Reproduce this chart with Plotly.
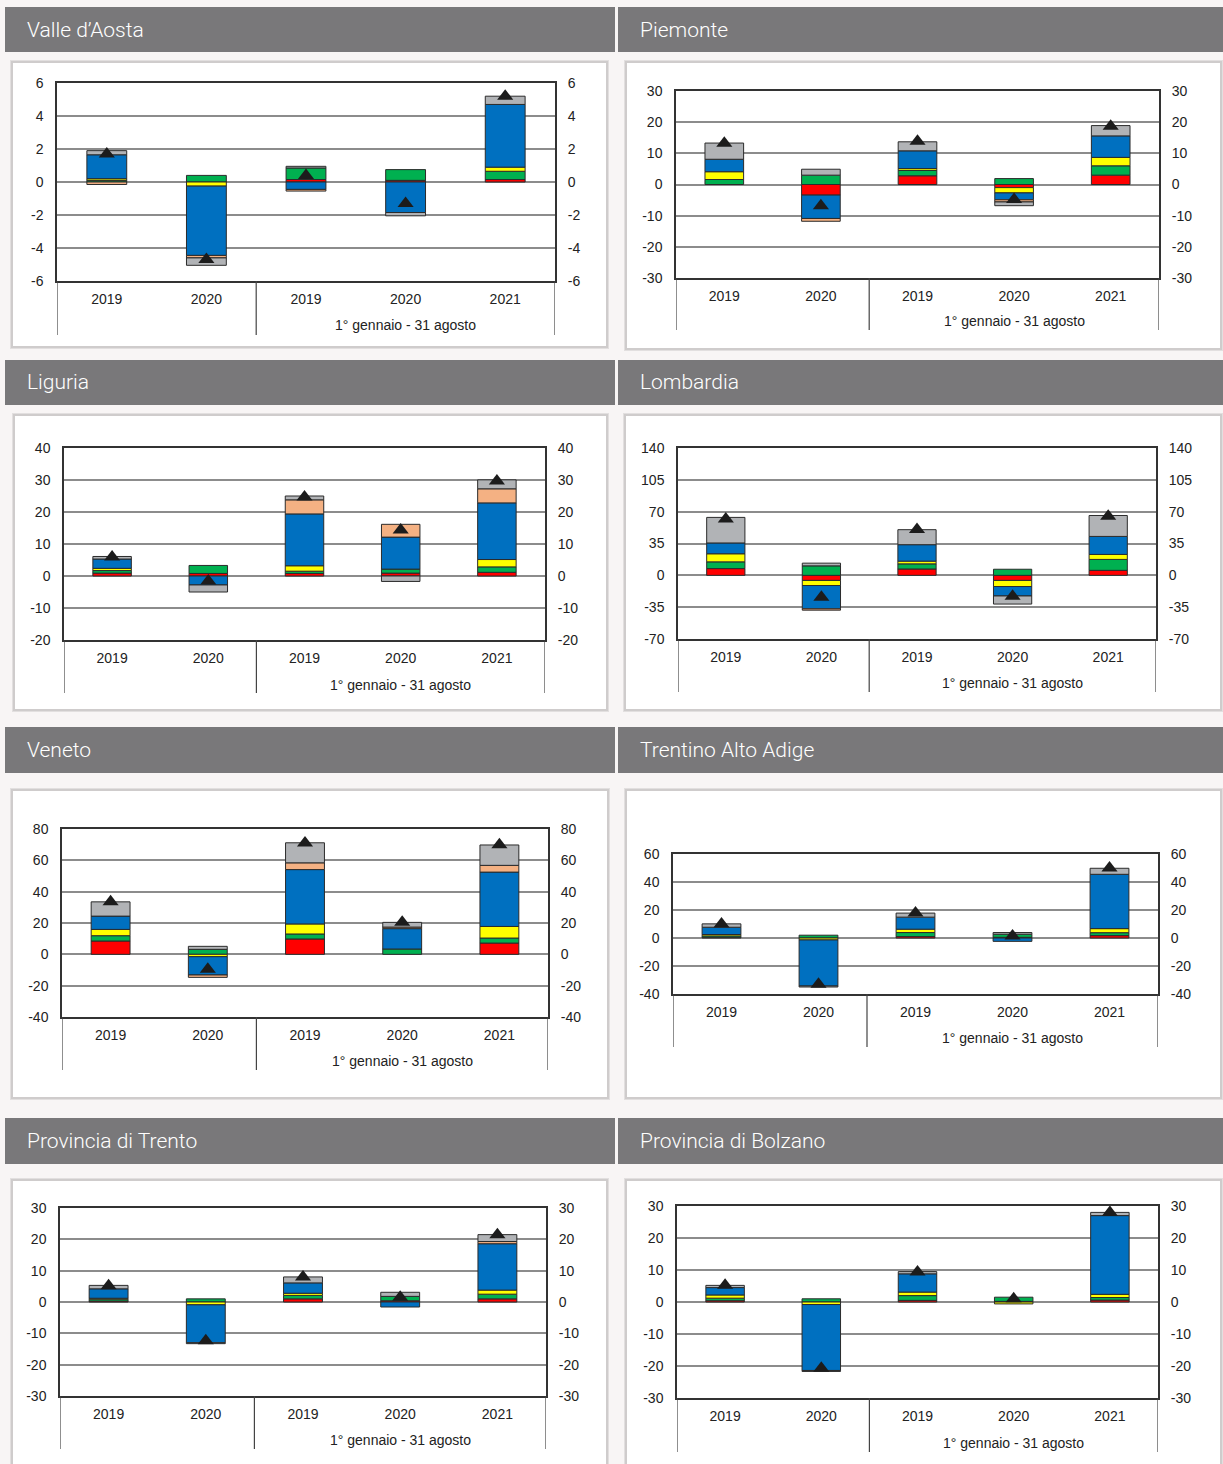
import plotly.graph_objects as go

W, H = 1223, 1464

years = ["2019", "2020", "2019", "2020", "2021"]
group_label = "1° gennaio - 31 agosto"

# ---- data ----
vda_red = [0, 0, 0.15, 0.1, 0.15]
vda_green = [0.1, 0.4, 0.7, 0.65, 0.5]
vda_yellow = [0.1, -0.25, 0, 0, 0.25]
vda_blue = [1.45, -4.2, -0.45, -1.85, 3.8]
vda_salmon = [-0.15, -0.15, -0.1, 0, 0]
vda_gray = [0.25, -0.45, 0.1, -0.2, 0.5]
vda_total = [1.7, -4.7, 0.4, -1.3, 5.2]

pie_red = [0, -3.4, 2.8, -1.0, 3.0]
pie_green = [1.6, 3.0, 1.7, 1.9, 3.0]
pie_yellow = [2.5, 0, 0.6, -1.7, 2.7]
pie_blue = [4.0, -7.5, 5.7, -2.2, 6.9]
pie_salmon = [0, -0.9, 0, -0.7, 0]
pie_gray = [5.2, 1.9, 2.9, -1.2, 3.3]
pie_total = [13.2, -6.8, 13.9, -4.8, 18.7]

lig_red = [0.9, 0.8, 0.8, 0.9, 1.15]
lig_green = [0.8, 2.5, 0.7, 1.25, 1.7]
lig_yellow = [0.7, 0, 1.7, 0, 2.3]
lig_blue = [2.9, -2.8, 16.2, 10.0, 17.7]
lig_salmon = [0, 0, 4.4, 4.0, 4.4]
lig_gray = [0.8, -2.2, 1.2, -1.7, 2.8]
lig_total = [5.9, -1.6, 24.7, 14.4, 29.7]

lom_red = [7.4, -5.6, 7.0, -5.6, 5.5]
lom_green = [7.4, 10.4, 5.6, 6.7, 12.0]
lom_yellow = [8.9, -5.6, 3.0, -6.7, 5.5]
lom_blue = [11.9, -25.6, 18.1, -10.4, 19.8]
lom_salmon = [0, -1.5, 0, 0, 0]
lom_gray = [28.1, 3.0, 16.5, -8.9, 23.0]
lom_total = [62, -24, 50.5, -23, 65]

ven_red = [8.5, 0, 9.8, 0, 7.2]
ven_green = [3.4, 3.2, 3.2, 3.4, 3.2]
ven_yellow = [4.0, -1.5, 6.4, 0, 7.4]
ven_blue = [8.5, -11.7, 34.7, 13.0, 34.7]
ven_salmon = [0, -1.5, 4.3, 1.0, 4.3]
ven_gray = [9.1, 1.9, 12.8, 3.0, 13.0]
ven_total = [33.5, -9.6, 71, 20.4, 70]

taa_red = [0.5, 0, 1.0, 0.5, 1.7]
taa_green = [1.0, 2.0, 2.9, 2.2, 2.1]
taa_yellow = [1.0, -1.4, 2.4, 0, 2.9]
taa_blue = [5.2, -32.9, 8.6, -2.4, 38.8]
taa_salmon = [0, 0, 0, 0, 0]
taa_gray = [2.4, -0.7, 2.9, 1.2, 4.3]
taa_total = [10, -33, 17.9, 1.5, 50]

tn_red = [0.3, 0, 1.0, 0.4, 1.0]
tn_green = [0.6, 1.0, 1.1, 1.4, 1.5]
tn_yellow = [0.3, -0.9, 0.7, 0, 1.3]
tn_blue = [3.0, -12.1, 3.3, -1.6, 14.8]
tn_salmon = [0, 0, 0, 0, 0.7]
tn_gray = [1.1, -0.3, 1.9, 1.3, 2.2]
tn_total = [5.2, -12.4, 8.0, 1.5, 21.5]

bz_red = [0.4, 0, 0.5, 0.2, 0.6]
bz_green = [0.8, 1.0, 1.5, 1.3, 0.8]
bz_yellow = [1.0, -0.8, 1.1, -0.6, 1.0]
bz_blue = [2.3, -20.6, 5.7, 0, 24.6]
bz_salmon = [0, 0, 0, 0, 0]
bz_gray = [0.7, -0.3, 0.7, 0, 1.0]
bz_total = [5.2, -20.7, 9.4, 1.0, 28.0]

colors = ["#ff0000", "#00b050", "#ffff00", "#0070c0", "#f4b183", "#b1b3b6"]

# ---- layout (pixel geometry) ----
panels = [
    dict(title="Valle d’Aosta", series=[vda_red, vda_green, vda_yellow, vda_blue, vda_salmon, vda_gray], total=vda_total,
         rng=[-6, 6], dtick=2, hdr=(5, 615, 7, 52), card=(12, 607, 62, 347), plot=(57, 555, 83, 281), sep=335, grp=325),
    dict(title="Piemonte", series=[pie_red, pie_green, pie_yellow, pie_blue, pie_salmon, pie_gray], total=pie_total,
         rng=[-30, 30], dtick=10, hdr=(618, 1223, 7, 52), card=(626, 1221, 62, 349), plot=(676, 1159, 91, 278), sep=330, grp=321),
    dict(title="Liguria", series=[lig_red, lig_green, lig_yellow, lig_blue, lig_salmon, lig_gray], total=lig_total,
         rng=[-20, 40], dtick=10, hdr=(5, 615, 360, 405), card=(14, 607, 415, 710), plot=(64, 545, 448, 640), sep=693, grp=685),
    dict(title="Lombardia", series=[lom_red, lom_green, lom_yellow, lom_blue, lom_salmon, lom_gray], total=lom_total,
         rng=[-70, 140], dtick=35, hdr=(618, 1223, 360, 405), card=(625, 1221, 415, 710), plot=(678, 1156, 448, 639), sep=692, grp=683),
    dict(title="Veneto", series=[ven_red, ven_green, ven_yellow, ven_blue, ven_salmon, ven_gray], total=ven_total,
         rng=[-40, 80], dtick=20, hdr=(5, 615, 727, 773), card=(12, 608, 790, 1098), plot=(62, 548, 829, 1017), sep=1070, grp=1061),
    dict(title="Trentino Alto Adige", series=[taa_red, taa_green, taa_yellow, taa_blue, taa_salmon, taa_gray], total=taa_total,
         rng=[-40, 60], dtick=20, hdr=(618, 1223, 727, 773), card=(626, 1221, 790, 1098), plot=(673, 1158, 854, 994), sep=1047, grp=1038),
    dict(title="Provincia di Trento", series=[tn_red, tn_green, tn_yellow, tn_blue, tn_salmon, tn_gray], total=tn_total,
         rng=[-30, 30], dtick=10, hdr=(5, 615, 1118, 1164), card=(12, 607, 1180, 1470), plot=(60, 546, 1208, 1396), sep=1449, grp=1440),
    dict(title="Provincia di Bolzano", series=[bz_red, bz_green, bz_yellow, bz_blue, bz_salmon, bz_gray], total=bz_total,
         rng=[-30, 30], dtick=10, hdr=(618, 1223, 1118, 1164), card=(626, 1221, 1180, 1470), plot=(677, 1158, 1206, 1398), sep=1452, grp=1443),
]


def px(x):
    return x / W


def py(y):
    return 1 - y / H


def ticks_for(rng, step):
    vals = []
    v = rng[0]
    while v <= rng[1] + 1e-9:
        vals.append(v)
        v += step
    return vals, [str(int(t)) if float(t).is_integer() else str(t) for t in vals]


fig = go.Figure()
shapes = []
annotations = []
layout = {}
TICKFONT = dict(family="Liberation Sans, Arial", size=14, color="#222222")

for i, p in enumerate(panels):
    n = i + 1
    nr = n + 8
    xa = "x" if n == 1 else f"x{n}"
    ya = "y" if n == 1 else f"y{n}"
    yr = f"y{nr}"
    hx0, hx1, hy0, hy1 = p["hdr"]
    cx0, cx1, cy0, cy1 = p["card"]
    X0, X1, Y0, Y1 = p["plot"]

    # header + card
    shapes.append(dict(type="rect", xref="paper", yref="paper", x0=px(hx0), x1=px(hx1), y0=py(hy1), y1=py(hy0),
                       fillcolor="#79787a", line=dict(width=0), layer="below"))
    shapes.append(dict(type="rect", xref="paper", yref="paper", x0=px(cx0 - 2), x1=px(cx1 + 2), y0=py(cy1 + 2), y1=py(cy0 - 2),
                       fillcolor="#e2dfdf", line=dict(width=0), layer="below"))
    shapes.append(dict(type="rect", xref="paper", yref="paper", x0=px(cx0), x1=px(cx1), y0=py(cy1), y1=py(cy0),
                       fillcolor="#ffffff", line=dict(color="#cfcccc", width=2), layer="below"))
    annotations.append(dict(text=p["title"], xref="paper", yref="paper", x=px(hx0 + 20), y=py((hy0 + hy1) / 2),
                            xanchor="left", yanchor="middle", showarrow=False,
                            font=dict(family="Roboto", size=21, color="#ffffff", weight=300)))

    xs = list(range(len(years)))
    for s, c in zip(p["series"], colors):
        vals = [v if v != 0 else None for v in s]
        fig.add_trace(go.Bar(x=xs, y=vals, marker=dict(color=c, line=dict(color="#2b2b2b", width=1)),
                             xaxis=xa, yaxis=ya, showlegend=False, hoverinfo="y"))
    fig.add_trace(go.Scatter(x=xs, y=p["total"], mode="markers",
                             marker=dict(symbol="triangle-up", size=14, color="#1c1c1c"),
                             xaxis=xa, yaxis=yr, showlegend=False, hoverinfo="y"))

    tv, tt = ticks_for(p["rng"], p["dtick"])
    dom_x = [px(X0), px(X1)]
    dom_y = [py(Y1), py(Y0)]
    layout["xaxis" if n == 1 else f"xaxis{n}"] = dict(
        domain=dom_x, anchor=ya, range=[-0.5, len(years) - 0.5], tickvals=xs, ticktext=years,
        showgrid=False, zeroline=False, showline=True, mirror=True, linecolor="#333333", linewidth=1.5,
        ticks="outside", ticklen=4, tickcolor="rgba(0,0,0,0)", tickfont=TICKFONT, fixedrange=True,
        automargin=False)
    common_y = dict(range=p["rng"], tickvals=tv, ticktext=tt, tickfont=TICKFONT,
                    ticks="outside", ticklen=9, tickcolor="rgba(0,0,0,0)", fixedrange=True, automargin=False)
    layout["yaxis" if n == 1 else f"yaxis{n}"] = dict(
        domain=dom_y, anchor=xa, showgrid=True, gridcolor="#8c8c8c", gridwidth=1.5,
        zeroline=True, zerolinecolor="#8c8c8c", zerolinewidth=1.5,
        showline=True, mirror=True, linecolor="#333333", linewidth=1.5, **common_y)
    layout[f"yaxis{nr}"] = dict(overlaying=ya, anchor=xa, side="right", showgrid=False, zeroline=False,
                                showline=False, **common_y)

    # category separators below the plot
    ph = Y1 - Y0
    ybot = -(p["sep"] - Y1) / ph
    for xb in [-0.5, 1.5, len(years) - 0.5]:
        shapes.append(dict(type="line", xref=xa, yref=f"{ya} domain", x0=xb, x1=xb, y0=0, y1=ybot,
                           line=dict(color="#444444", width=1.2)))
    annotations.append(dict(text=group_label, xref=xa, yref=f"{ya} domain", x=3, y=-(p["grp"] - Y1) / ph,
                            xanchor="center", yanchor="middle", showarrow=False, font=TICKFONT))

fig.update_layout(
    width=W, height=H, margin=dict(l=0, r=0, t=0, b=0, pad=0, autoexpand=False),
    paper_bgcolor="#f8f5f5", plot_bgcolor="#ffffff", showlegend=False,
    barmode="relative", bargap=0.6,
    shapes=shapes, annotations=annotations, **layout)

fig.write_html("out.html", config={"displayModeBar": False},
               post_script="document.body.style.margin='0';document.body.style.overflow='hidden';")
